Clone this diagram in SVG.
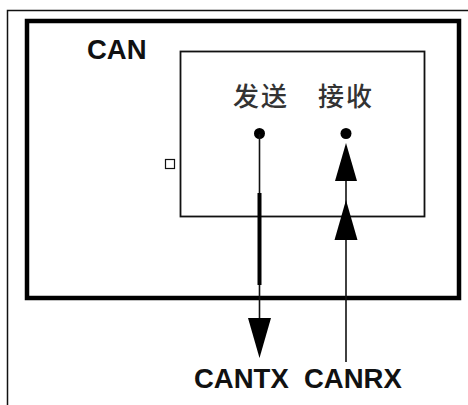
<svg xmlns="http://www.w3.org/2000/svg" width="468" height="405" viewBox="0 0 468 405">
<style>
.lbl{font-family:"Liberation Sans",Arial,sans-serif;font-weight:bold;font-size:27.5px;fill:#111}
.cjk{font-family:"Noto Sans CJK SC","Noto Sans",sans-serif;font-size:26px;font-weight:500;letter-spacing:2px;fill:#333}
.thin{stroke:#111;stroke-width:1.6;fill:none}
.head{fill:#000}
</style>
<rect width="468" height="405" fill="#fff"/>
<g id="frame"><path d="M7.5 405 V10.5 H468" stroke="#111" stroke-width="1.5" fill="none"/></g>
<g id="can">
<rect x="27" y="21" width="432" height="277" fill="none" stroke="#000" stroke-width="4.5"/>
<text class="lbl" x="87" y="59">CAN</text>
</g>
<g id="inner">
<rect x="180.5" y="51.5" width="244" height="165" fill="none" stroke="#111" stroke-width="1.8"/>
<rect x="165.5" y="159.5" width="9" height="9" fill="#fff" stroke="#111" stroke-width="1.2"/>
<text class="cjk" x="261" y="106" text-anchor="middle">发送</text>
<text class="cjk" x="346" y="106" text-anchor="middle">接收</text>
</g>
<g id="connectors">
<circle cx="259.5" cy="133.5" r="5.5" fill="#000"/>
<circle cx="346" cy="133.5" r="5.5" fill="#000"/>
<line class="thin" x1="259.5" y1="134" x2="259.5" y2="320"/>
<line x1="259.5" y1="193" x2="259.5" y2="285" stroke="#000" stroke-width="4"/>
<polygon class="head" points="248,318 271,318 259.5,358"/>
<line class="thin" x1="346" y1="362" x2="346" y2="150"/>
<polygon class="head" points="334.5,240 357.5,240 346,200"/>
<polygon class="head" points="335,181 357,181 346,143"/>
<text class="lbl" x="194" y="388">CANTX</text>
<text class="lbl" x="304" y="388">CANRX</text>
</g>
</svg>
